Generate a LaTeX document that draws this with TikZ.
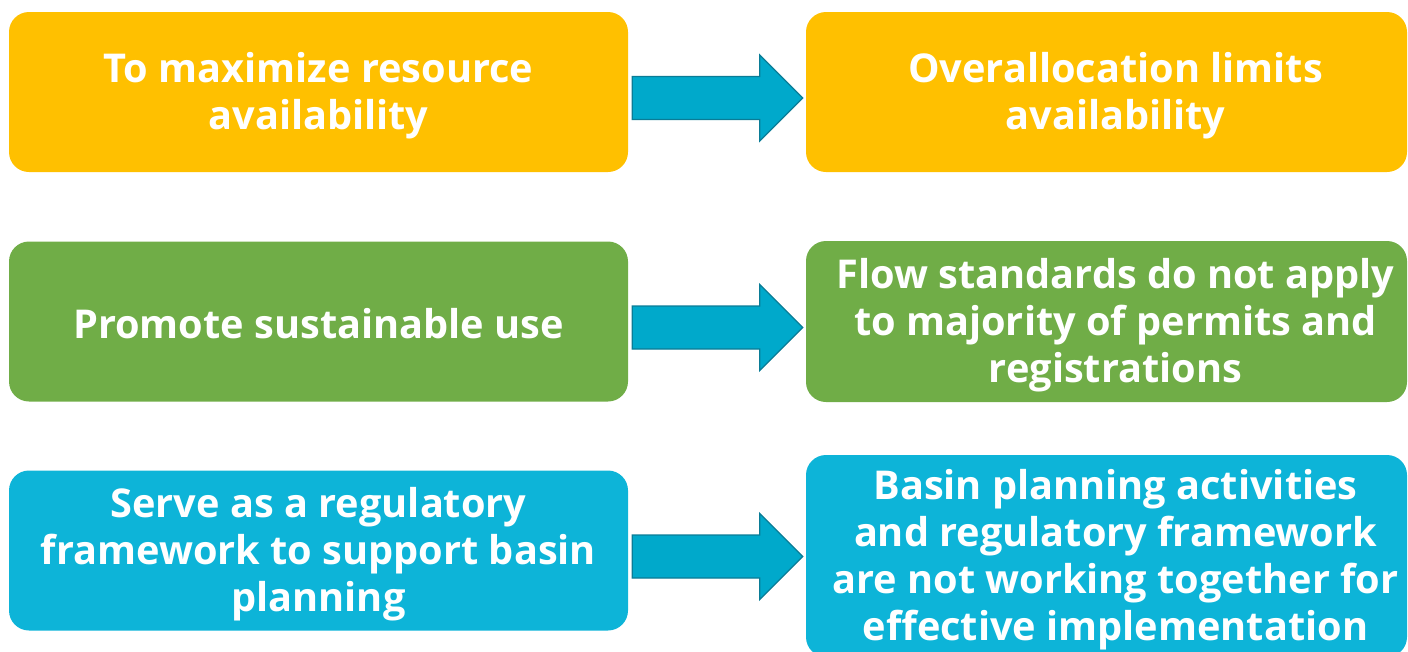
\documentclass[tikz,border=0pt]{standalone}
\usepackage{fontspec}
\setmainfont{Open Sans}
\usetikzlibrary{calc}
\definecolor{cyellow}{HTML}{FFC000}
\definecolor{cgreen}{HTML}{70AD47}
\definecolor{cblue}{HTML}{0DB4D8}
\definecolor{afill}{HTML}{00A9CB}
\definecolor{aedge}{HTML}{0A7C96}
\tikzset{
  box/.style={draw=none, rounded corners=20pt, inner sep=0pt},
  lbox/.style={box, minimum width=619pt, minimum height=160pt},
  txt/.style={text=white, align=center, font=\fontsize{39.7}{47}\selectfont\bfseries, inner sep=0pt},
  blockarrow/.style={fill=afill, draw=aedge, line width=1.3pt, line join=miter}
}
\newcommand\blkarrow[2]{%
  \draw[blockarrow] let \p1=(#1.east), \p2=(#2.west) in
    (\x1+4pt,\y1-6pt+21.5pt) -- (\x2-46pt,\y1-6pt+21.5pt) -- (\x2-46pt,\y1-6pt+43pt)
    -- (\x2-3pt,\y1-6pt) -- (\x2-46pt,\y1-6pt-43pt) -- (\x2-46pt,\y1-6pt-21.5pt)
    -- (\x1+4pt,\y1-6pt-21.5pt) -- cycle;}
\begin{document}
\begin{tikzpicture}[x=1pt,y=1pt]
\useasboundingbox (0,-651) rectangle (1408,0);
% left column
\node[lbox, fill=cyellow] (l1) at (318.5,-92) {};
\node[txt] (l1t) at ($(l1.center)+(0,-4)$) {To maximize resource\\availability};
\node[lbox, fill=cgreen] (l2) at (318.5,-321.5) {};
\node[txt] (l2t) at ($(l2.center)+(0,-2)$) {Promote sustainable use};
\node[lbox, fill=cblue] (l3) at (318.5,-550.5) {};
\node[txt] (l3t) at ($(l3.center)+(0,-4)$) {Serve as a regulatory\\framework to support basin\\planning};
% right column
\node[box, fill=cyellow, minimum width=601pt, minimum height=160pt] (r1) at (1106.5,-92) {};
\node[txt] (r1t) at ($(r1.center)+(9,-4)$) {Overallocation limits\\availability};
\node[box, fill=cgreen, minimum width=601pt, minimum height=161pt] (r2) at (1106.5,-321.5) {};
\node[txt] (r2t) at ($(r2.center)+(9,-4)$) {Flow standards do not apply\\to majority of permits and\\registrations};
\node[box, fill=cblue, minimum width=601pt, minimum height=202pt] (r3) at (1106.5,-556) {};
\node[txt] (r3t) at ($(r3.center)+(9,-4)$) {Basin planning activities\\and regulatory framework\\are not working together for\\effective implementation};
% arrows
\blkarrow{l1}{r1}
\blkarrow{l2}{r2}
\blkarrow{l3}{r3}
\end{tikzpicture}
\end{document}
